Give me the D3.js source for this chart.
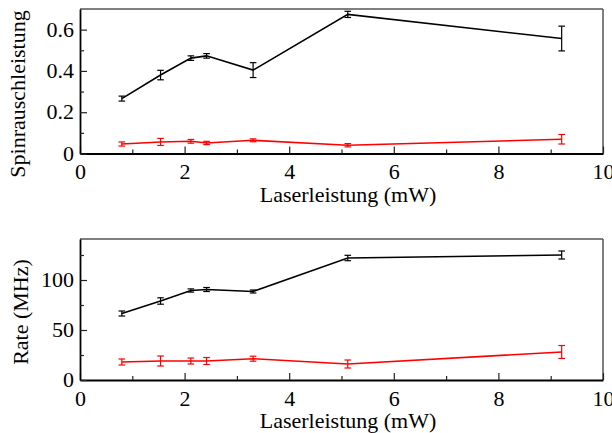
<!DOCTYPE html>
<html>
<head>
<meta charset="utf-8">
<script src="https://cdn.jsdelivr.net/npm/d3@7"></script>
<style>
html,body{margin:0;padding:0;background:#fff;}
svg{display:block;}
</style>
</head>
<body>
<svg id="chart" width="612" height="433"></svg>
<script>
// ---- data ----
const power = [0.80, 1.54, 2.12, 2.42, 3.31, 5.12, 9.21];

const spinBlack    = [0.266, 0.380, 0.462, 0.473, 0.404, 0.674, 0.557];
const spinBlackErr = [0.012, 0.023, 0.011, 0.011, 0.036, 0.015, 0.060];
const spinRed      = [0.046, 0.056, 0.059, 0.051, 0.064, 0.040, 0.069];
const spinRedErr   = [0.010, 0.017, 0.009, 0.008, 0.007, 0.008, 0.023];

const rateBlack    = [66.5, 79, 89.5, 90.5, 88.5, 122, 125];
const rateBlackErr = [2.5, 3.2, 1.6, 2.0, 1.5, 2.7, 4.0];
const rateRed      = [18, 19, 19, 19, 21.3, 16, 28];
const rateRedErr   = [3.0, 5.0, 3.0, 3.5, 2.5, 4.0, 6.5];

const xTicks = [0, 2, 4, 6, 8, 10];
const xMinor = [1, 3, 5, 7, 9];
const spinTicks = [0, 0.2, 0.4, 0.6];
const spinTickLabels = ["0", "0.2", "0.4", "0.6"];
const spinMinor = [0.1, 0.3, 0.5];
const rateTicks = [0, 50, 100];
const rateTickLabels = ["0", "50", "100"];
const rateMinor = [25, 75, 125];

const xLabel = "Laserleistung (mW)";
const spinLabel = "Spinrauschleistung";
const rateLabel = "Rate (MHz)";

// ---- drawing ----
const FONT = '"Liberation Serif", "DejaVu Serif", "Times New Roman", serif';
const svg = d3.select("#chart");
const FS = 22;
const left = 80, right = 603;
const x = d3.scaleLinear().domain([0, 10]).range([left, right]);

function panel(cfg) {
  const y = d3.scaleLinear().domain(cfg.yDomain).range([cfg.bottom, cfg.top]);
  const g = svg.append("g");

  // frame: top/right lighter
  g.append("line").attr("x1", left).attr("x2", right).attr("y1", cfg.top).attr("y2", cfg.top)
    .attr("stroke", "#555").attr("stroke-width", 1.5);
  g.append("line").attr("x1", right).attr("x2", right).attr("y1", cfg.top).attr("y2", cfg.bottom)
    .attr("stroke", "#555").attr("stroke-width", 1.5);

  // x axis (ticks inward)
  const xAxis = d3.axisBottom(x).tickValues(xTicks).tickSizeInner(-7).tickSizeOuter(0)
    .tickPadding(10).tickFormat(d3.format("d"));
  const xa = g.append("g").attr("transform", `translate(0,${cfg.bottom})`).call(xAxis);
  const xMin = d3.axisBottom(x).tickValues(xMinor).tickSizeInner(-4).tickSizeOuter(0).tickFormat("");
  const xm = g.append("g").attr("transform", `translate(0,${cfg.bottom})`).call(xMin);
  xm.select(".domain").remove();

  // y axis
  const yAxis = d3.axisLeft(y).tickValues(cfg.yTicks).tickSizeInner(-7).tickSizeOuter(0)
    .tickPadding(6).tickFormat((d, i) => cfg.yTickLabels[i]);
  const ya = g.append("g").attr("transform", `translate(${left},0)`).call(yAxis);
  const yMin = d3.axisLeft(y).tickValues(cfg.yMinor).tickSizeInner(-4).tickSizeOuter(0).tickFormat("");
  const ym = g.append("g").attr("transform", `translate(${left},0)`).call(yMin);
  ym.select(".domain").remove();

  [xa, ya].forEach(a => {
    a.attr("font-family", FONT).attr("font-size", FS);
    a.select(".domain").attr("stroke", "#000").attr("stroke-width", 1.8);
    a.selectAll(".tick line").attr("stroke", "#222").attr("stroke-width", 1.2);
    a.selectAll(".tick text").attr("font-size", FS).style("font-family", FONT).attr("fill", "#000");
  });
  [xm, ym].forEach(a => a.selectAll(".tick line").attr("stroke", "#222").attr("stroke-width", 1.2));
  ya.selectAll(".tick text").attr("dy", "0.3em");
  xa.selectAll(".tick text").attr("y", 25.5).attr("dy", 0);

  // series
  cfg.series.forEach(s => {
    const line = d3.line().x((d, i) => x(power[i])).y(d => y(d));
    g.append("path").datum(s.values).attr("d", line)
      .attr("fill", "none").attr("stroke", s.color).attr("stroke-width", 1.6);
    const eb = g.append("g").attr("stroke", s.color).attr("stroke-width", 1.2);
    s.values.forEach((v, i) => {
      const cx = x(power[i]), y1 = y(v - s.err[i]), y2 = y(v + s.err[i]);
      eb.append("line").attr("x1", cx).attr("x2", cx).attr("y1", y1).attr("y2", y2);
      eb.append("line").attr("x1", cx - 3.3).attr("x2", cx + 3.3).attr("y1", y1).attr("y2", y1);
      eb.append("line").attr("x1", cx - 3.3).attr("x2", cx + 3.3).attr("y1", y2).attr("y2", y2);
    });
  });

  // labels
  g.append("text").attr("x", 348).attr("y", cfg.bottom + 48).attr("text-anchor", "middle")
    .attr("font-size", FS).style("font-family", FONT).text(xLabel);
  g.append("text").attr("transform", `translate(${cfg.ylx},${cfg.yly}) rotate(-90)`)
    .attr("text-anchor", "middle").attr("font-size", FS).style("font-family", FONT).text(cfg.yLabel);
}

panel({
  top: 9, bottom: 153.5, yDomain: [0, 0.7],
  yTicks: spinTicks, yTickLabels: spinTickLabels, yMinor: spinMinor,
  yLabel: spinLabel, ylx: 25, yly: 94,
  series: [
    {values: spinBlack, err: spinBlackErr, color: "#000"},
    {values: spinRed, err: spinRedErr, color: "#ff0000"}
  ]
});

panel({
  top: 239, bottom: 380, yDomain: [0, 141],
  yTicks: rateTicks, yTickLabels: rateTickLabels, yMinor: rateMinor,
  yLabel: rateLabel, ylx: 28, yly: 312,
  series: [
    {values: rateBlack, err: rateBlackErr, color: "#000"},
    {values: rateRed, err: rateRedErr, color: "#ff0000"}
  ]
});
</script>
</body>
</html>
